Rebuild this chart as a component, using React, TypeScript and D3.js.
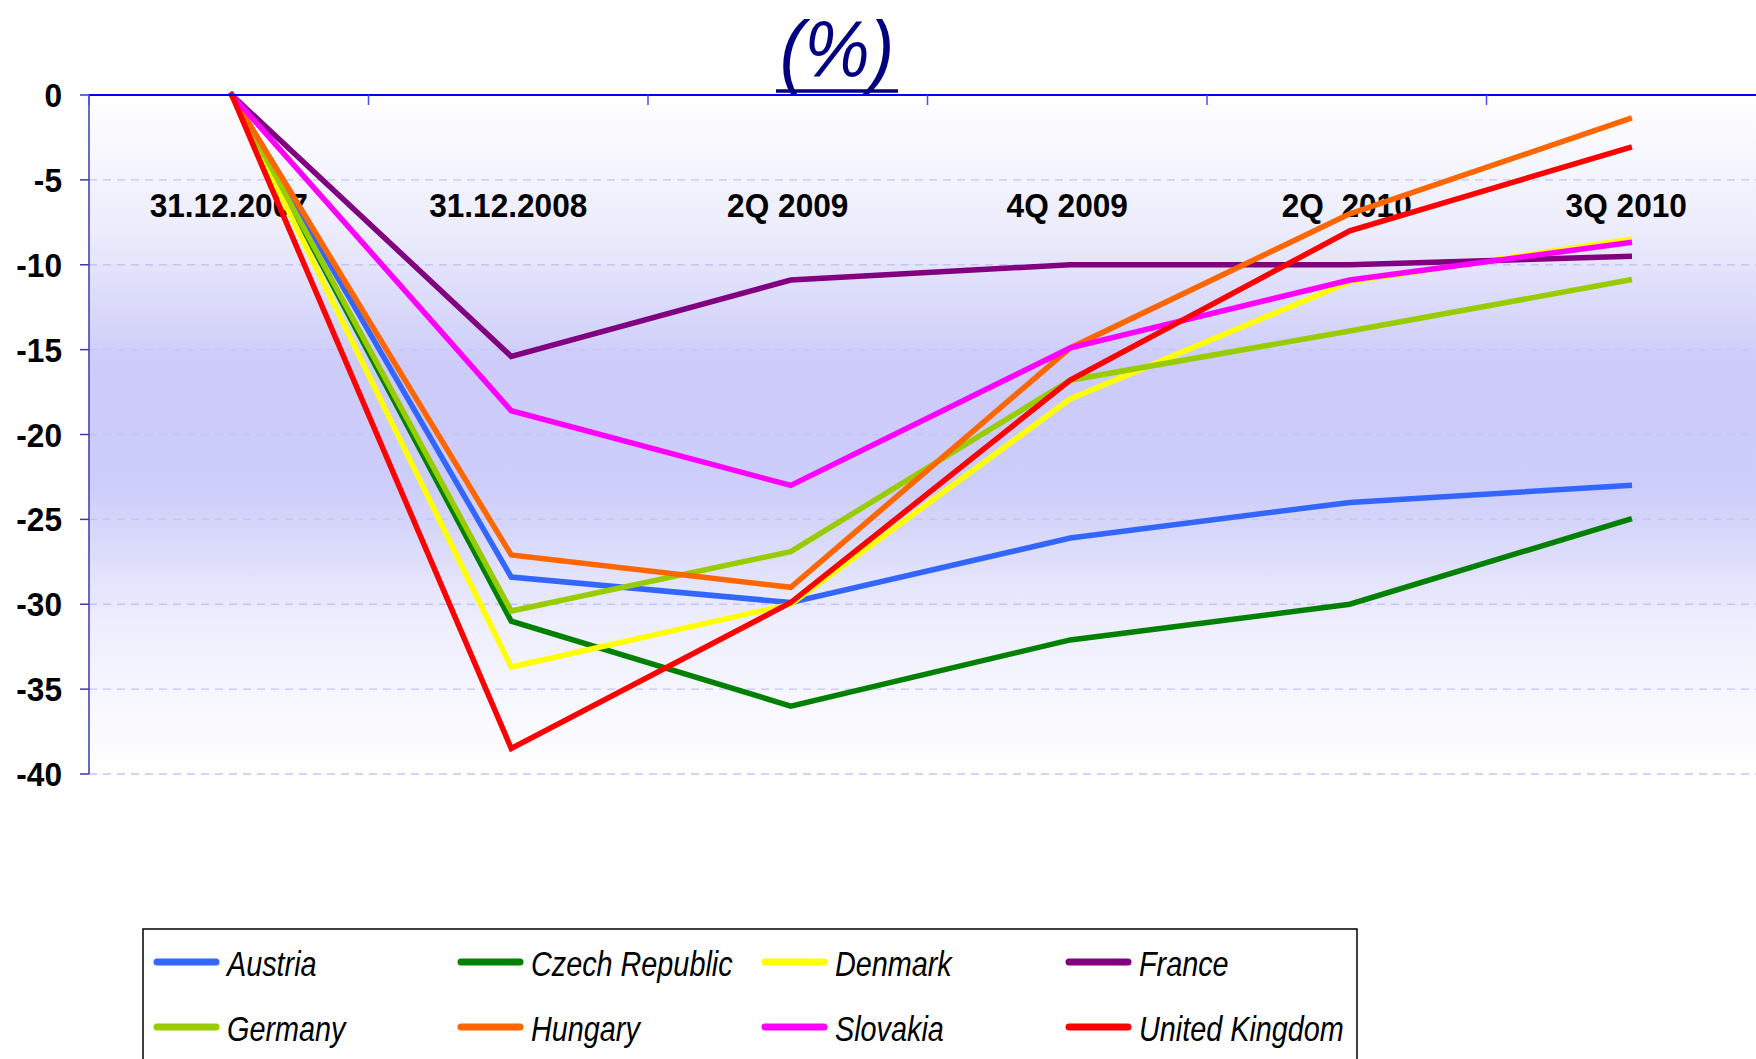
import React from "react";
import * as d3 from "d3";

const categories = ["31.12.2007", "31.12.2008", "2Q 2009", "4Q 2009", "2Q  2010", "3Q 2010"];
const yTicks = [0, -5, -10, -15, -20, -25, -30, -35, -40];

const austria = [0, -28.4, -29.9, -26.1, -24.0, -23.0];
const czechRepublic = [0, -31.0, -36.0, -32.1, -30.0, -25.0];
const denmark = [0, -33.7, -30.0, -17.9, -11.0, -8.5];
const france = [0, -15.4, -10.9, -10.0, -10.0, -9.5];
const germany = [0, -30.4, -26.9, -16.8, -13.9, -10.9];
const hungary = [0, -27.1, -29.0, -14.9, -7.0, -1.4];
const slovakia = [0, -18.6, -23.0, -14.9, -10.9, -8.7];
const unitedKingdom = [0, -38.5, -29.9, -16.8, -8.0, -3.1];

const seriesNames = ["Austria", "Czech Republic", "Denmark", "France", "Germany", "Hungary", "Slovakia", "United Kingdom"];
const seriesColors = ["#3366ff", "#008000", "#ffff00", "#800080", "#99cc00", "#ff6600", "#ff00ff", "#ff0000"];
const seriesValues = [austria, czechRepublic, denmark, france, germany, hungary, slovakia, unitedKingdom];

const W = 1756;
const H = 1059;
const plotLeft = 89;
const bandW = 279.5;
const plotTop = 95;
const plotBottom = 774;

export default function App() {
  const x = d3.scaleBand<string>().domain(categories).range([plotLeft, plotLeft + bandW * categories.length]).padding(0);
  const y = d3.scaleLinear().domain([-40, 0]).range([plotBottom, plotTop]);
  const px = (c: string) => (x(c) as number) + x.bandwidth() / 2 + 3;
  const line = d3
    .line<number>()
    .x((_, i) => px(categories[i]))
    .y((v) => y(v));

  const tickBounds = categories.map((c) => x(c) as number).concat([plotLeft + bandW * categories.length]);

  const legendLeft = 143;
  const legendTop = 929;
  const colW = 304;
  const rowY = [962, 1027];

  return (
    <div style={{ position: "absolute", left: 0, top: 0, width: W, height: H, overflow: "hidden", background: "#fff" }}>
      <svg width={W} height={H} style={{ display: "block" }}>
        <defs>
          <linearGradient id="bg" x1="0" y1="0" x2="0" y2="1">
            <stop offset="0%" stopColor="#ffffff" />
            <stop offset="20%" stopColor="#ececfc" />
            <stop offset="40%" stopColor="#cccbfa" />
            <stop offset="58%" stopColor="#cdcdfa" />
            <stop offset="78%" stopColor="#eeeefd" />
            <stop offset="100%" stopColor="#ffffff" />
          </linearGradient>
        </defs>

        {/* plot background */}
        <rect x={plotLeft} y={plotTop} width={W - plotLeft} height={plotBottom - plotTop} fill="url(#bg)" />

        {/* gridlines */}
        {yTicks
          .filter((t) => t !== 0)
          .map((t) => (
            <line
              key={"g" + t}
              x1={plotLeft}
              x2={W}
              y1={y(t)}
              y2={y(t)}
              stroke="#c4c4fb"
              strokeWidth={1.3}
              strokeDasharray="8 6"
            />
          ))}

        {/* left axis */}
        <line x1={plotLeft} x2={plotLeft} y1={plotTop} y2={plotBottom} stroke="#3a3aa8" strokeWidth={1.5} />
        {yTicks.map((t) => (
          <g key={"yt" + t}>
            <line x1={plotLeft - 9} x2={plotLeft} y1={y(t)} y2={y(t)} stroke="#3a3aa8" strokeWidth={1.5} />
            <text
              transform={`translate(62,${y(t) + 12}) scale(0.93,1)`}
              textAnchor="end"
              fontFamily="'Liberation Sans', Arial, sans-serif"
              fontWeight="bold"
              fontSize={34}
              fill="#000"
            >
              {t}
            </text>
          </g>
        ))}

        {/* category labels */}
        {categories.map((c) => (
          <text
            key={"c" + c}
            transform={`translate(${(x(c) as number) + x.bandwidth() / 2},217) scale(0.93,1)`}
            textAnchor="middle"
            fontFamily="'Liberation Sans', Arial, sans-serif"
            fontWeight="bold"
            fontSize={34}
            fill="#000"
            style={{ whiteSpace: "pre" }}
          >
            {c}
          </text>
        ))}

        {/* series lines */}
        <g>
          {seriesValues.map((vals, i) => (
            <path
              key={seriesNames[i]}
              d={line(vals) as string}
              fill="none"
              stroke={seriesColors[i]}
              strokeWidth={5.5}
              strokeLinejoin="miter"
              strokeLinecap="square"
            />
          ))}
        </g>

        {/* top axis (value 0) */}
        <line x1={plotLeft} x2={W} y1={y(0)} y2={y(0)} stroke="#0000ff" strokeWidth={2} />
        {tickBounds.map((b, i) => (
          <line key={"xt" + i} x1={b} x2={b} y1={y(0)} y2={y(0) + 10} stroke="#4a4aff" strokeWidth={1.5} />
        ))}

        {/* title fragment */}
        <text
          transform="translate(837,77) scale(0.92,1)"
          textAnchor="middle"
          fontFamily="'Liberation Sans', Arial, sans-serif"
          fontStyle="italic"
          fontSize={80}
          fill="#000080"
        >
          (%)
        </text>
        <line x1={776} x2={898} y1={91} y2={91} stroke="#000080" strokeWidth={3.5} />

        {/* legend */}
        <rect x={legendLeft} y={legendTop} width={1357 - legendLeft} height={H - legendTop + 20} fill="#fff" stroke="#000" strokeWidth={1.5} />
        {seriesNames.map((n, i) => {
          const col = i % 4;
          const row = Math.floor(i / 4);
          const sx = 157 + col * colW;
          const yy = rowY[row];
          return (
            <g key={"lg" + n}>
              <line x1={sx} x2={sx + 59} y1={yy} y2={yy} stroke={seriesColors[i]} strokeWidth={7} strokeLinecap="round" />
              <text
                transform={`translate(${sx + 70},${yy + 14}) scale(0.8,1)`}
                fontFamily="'Liberation Sans', Arial, sans-serif"
                fontStyle="italic"
                fontSize={36}
                fill="#000"
              >
                {n}
              </text>
            </g>
          );
        })}
      </svg>
    </div>
  );
}
